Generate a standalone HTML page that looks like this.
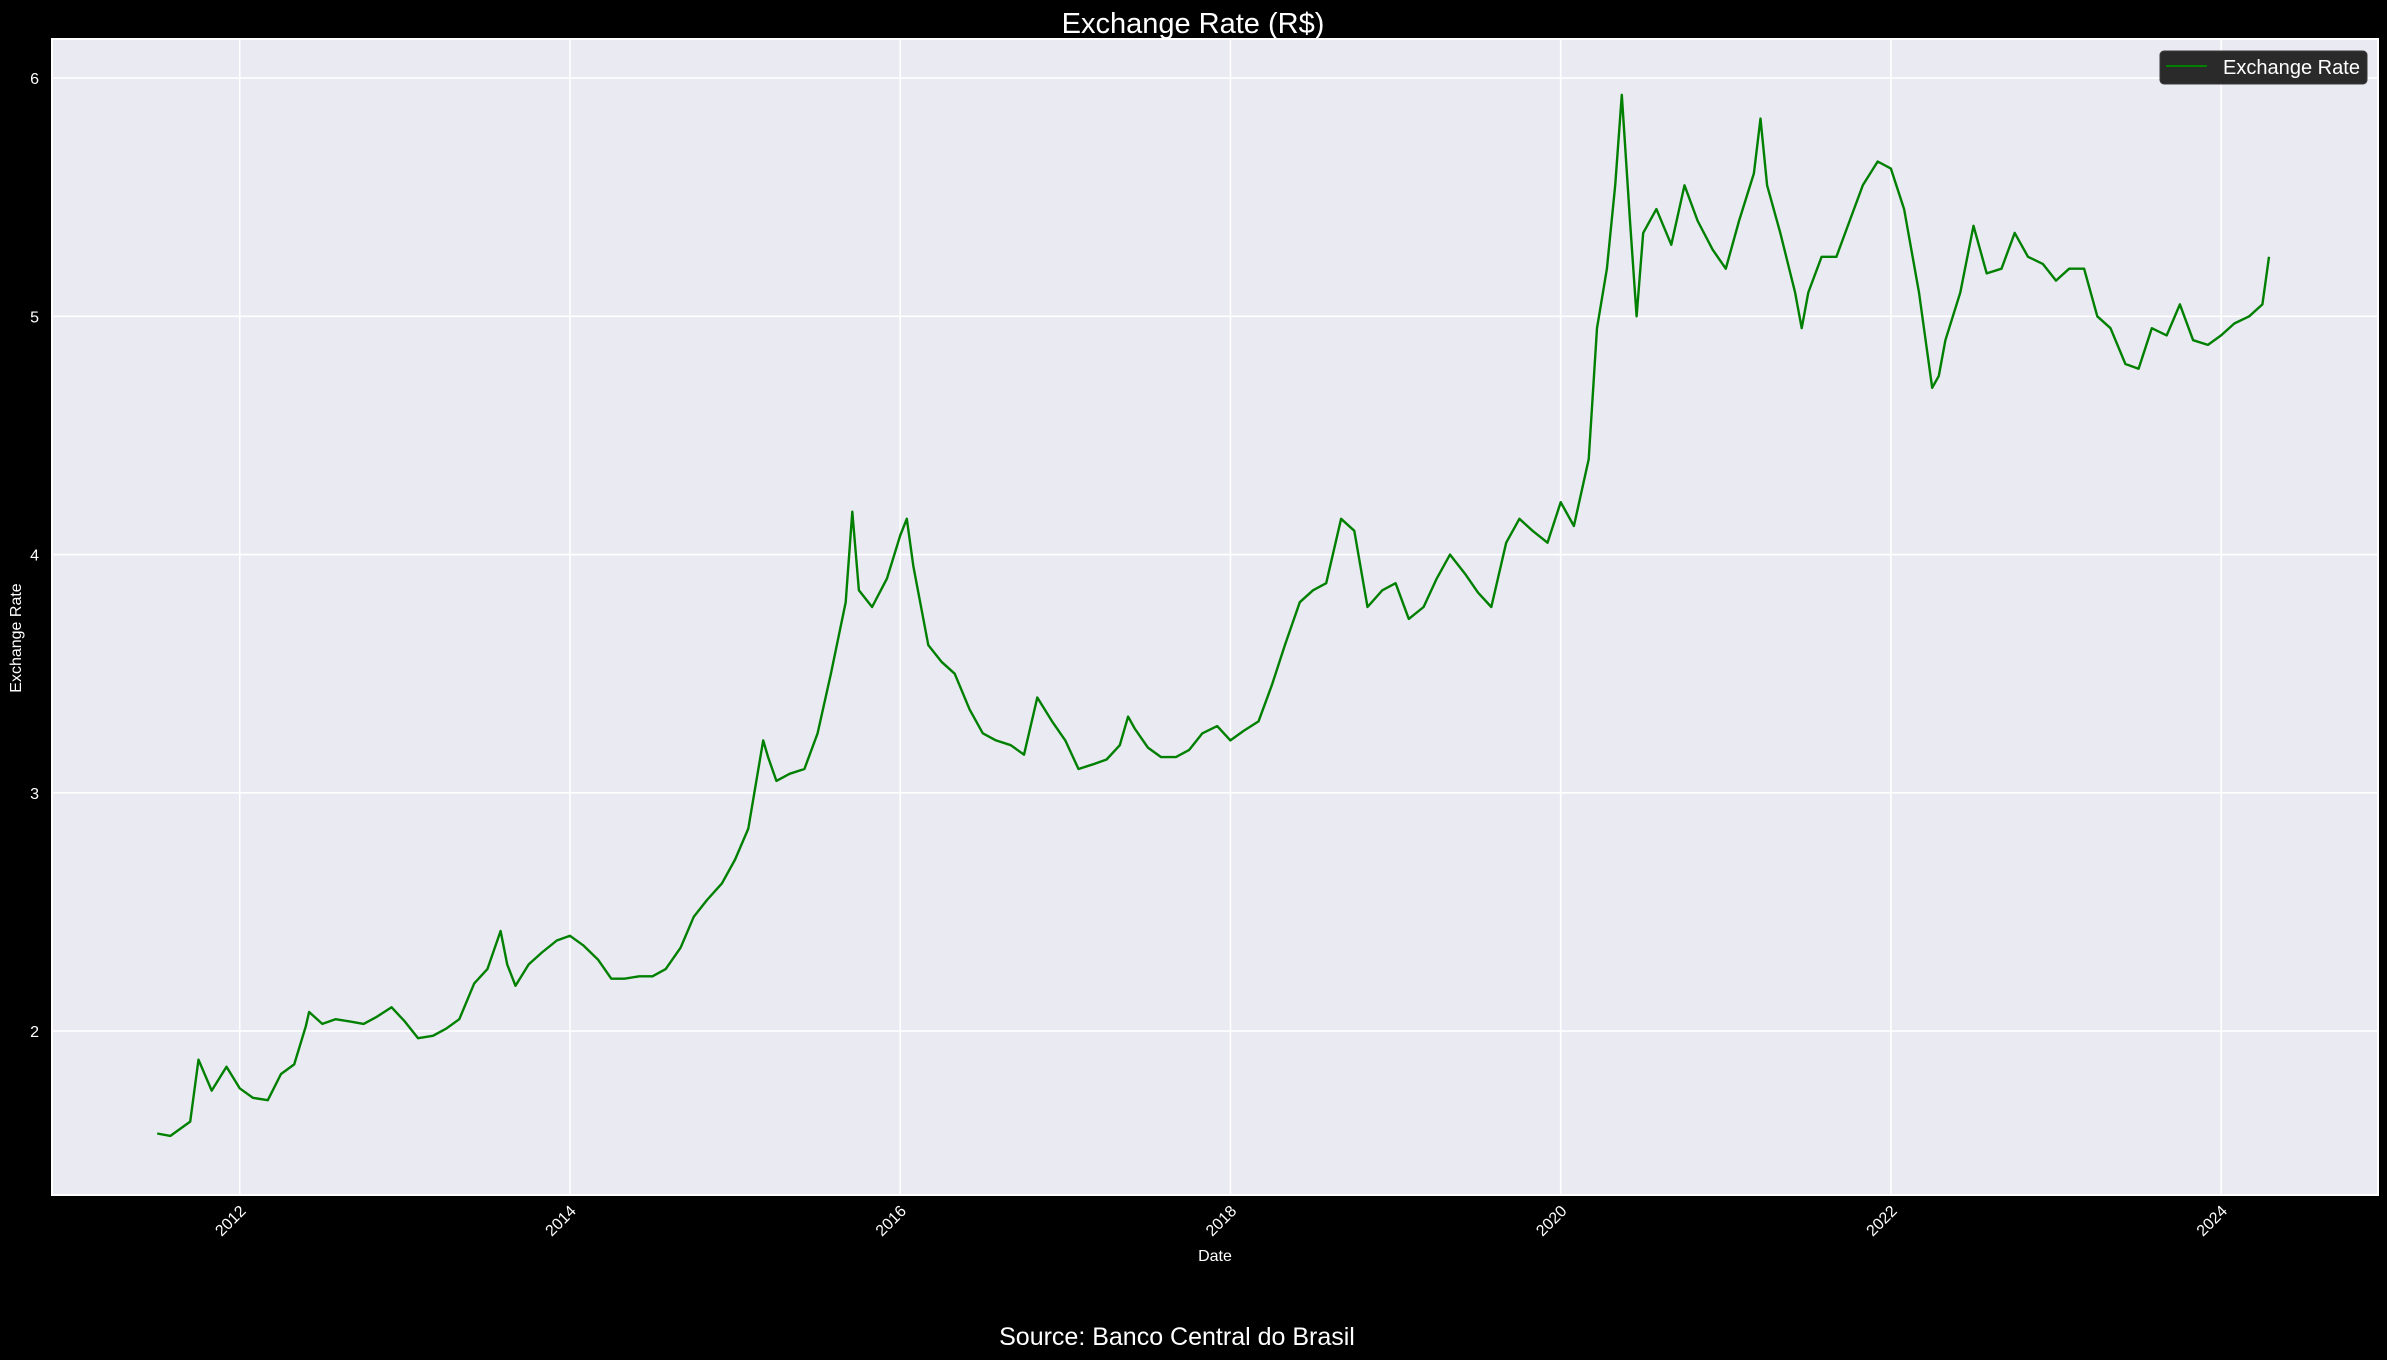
<!DOCTYPE html>
<html><head><meta charset="utf-8"><style>
html,body{margin:0;padding:0;background:#000;}
svg{display:block;font-family:"Liberation Sans",sans-serif;}
</style></head><body>
<svg id="chart" width="2387" height="1360" viewBox="0 0 2387 1360" xmlns="http://www.w3.org/2000/svg">
<rect x="0" y="0" width="2387" height="1360" fill="#000"/>
<text x="1193" y="33" fill="#fff" font-size="29" text-anchor="middle">Exchange Rate (R$)</text>
<rect x="52" y="39" width="2326" height="1156" fill="#eaeaf2" stroke="#fff" stroke-width="2"/>
<g id="grid"></g>
<g id="series"></g>
<g id="axes"></g>
<text x="1215" y="1261" fill="#fff" font-size="16" text-anchor="middle">Date</text>
<text x="21" y="638" fill="#fff" font-size="16" text-anchor="middle" transform="rotate(-90 21 638)">Exchange Rate</text>
<g>
<rect x="2160" y="51" width="207" height="33" rx="4" fill="#2a2a2a" stroke="#3a3a3a"/>
<line x1="2166" y1="66" x2="2207" y2="66" stroke="#008000" stroke-width="2"/>
<text x="2223" y="74" fill="#fff" font-size="20" textLength="137" lengthAdjust="spacingAndGlyphs">Exchange Rate</text>
</g>
<text x="1177" y="1345" fill="#fff" font-size="25" text-anchor="middle">Source: Banco Central do Brasil</text>
</svg>
<script>
const dates = [2011.50,2011.58,2011.66,2011.70,2011.75,2011.83,2011.92,2012.00,2012.08,2012.17,2012.25,2012.33,2012.40,2012.42,2012.50,2012.58,2012.67,2012.75,2012.83,2012.92,2013.00,2013.08,2013.17,2013.25,2013.33,2013.42,2013.50,2013.58,2013.62,2013.67,2013.75,2013.83,2013.92,2014.00,2014.08,2014.17,2014.25,2014.33,2014.42,2014.50,2014.58,2014.67,2014.75,2014.83,2014.92,2015.00,2015.08,2015.17,2015.20,2015.25,2015.33,2015.42,2015.50,2015.58,2015.67,2015.71,2015.75,2015.83,2015.92,2016.00,2016.04,2016.08,2016.17,2016.25,2016.33,2016.42,2016.50,2016.58,2016.67,2016.75,2016.83,2016.92,2017.00,2017.08,2017.17,2017.25,2017.33,2017.38,2017.42,2017.50,2017.58,2017.67,2017.75,2017.83,2017.92,2018.00,2018.08,2018.17,2018.25,2018.33,2018.42,2018.50,2018.58,2018.67,2018.75,2018.83,2018.92,2019.00,2019.08,2019.17,2019.25,2019.33,2019.42,2019.50,2019.58,2019.67,2019.75,2019.83,2019.92,2020.00,2020.08,2020.17,2020.22,2020.28,2020.33,2020.37,2020.42,2020.46,2020.50,2020.58,2020.67,2020.75,2020.83,2020.92,2021.00,2021.08,2021.17,2021.21,2021.25,2021.33,2021.42,2021.46,2021.50,2021.58,2021.67,2021.75,2021.83,2021.92,2022.00,2022.08,2022.17,2022.25,2022.29,2022.33,2022.42,2022.50,2022.58,2022.67,2022.75,2022.83,2022.92,2023.00,2023.08,2023.17,2023.25,2023.33,2023.42,2023.50,2023.58,2023.67,2023.75,2023.83,2023.92,2024.00,2024.08,2024.17,2024.25,2024.29];
const rates = [1.57,1.56,1.60,1.62,1.88,1.75,1.85,1.76,1.72,1.71,1.82,1.86,2.02,2.08,2.03,2.05,2.04,2.03,2.06,2.10,2.04,1.97,1.98,2.01,2.05,2.20,2.26,2.42,2.28,2.19,2.28,2.33,2.38,2.40,2.36,2.30,2.22,2.22,2.23,2.23,2.26,2.35,2.48,2.55,2.62,2.72,2.85,3.22,3.15,3.05,3.08,3.10,3.25,3.50,3.80,4.18,3.85,3.78,3.90,4.08,4.15,3.95,3.62,3.55,3.50,3.35,3.25,3.22,3.20,3.16,3.40,3.30,3.22,3.10,3.12,3.14,3.20,3.32,3.27,3.19,3.15,3.15,3.18,3.25,3.28,3.22,3.26,3.30,3.45,3.62,3.80,3.85,3.88,4.15,4.10,3.78,3.85,3.88,3.73,3.78,3.90,4.00,3.92,3.84,3.78,4.05,4.15,4.10,4.05,4.22,4.12,4.40,4.95,5.20,5.55,5.93,5.40,5.00,5.35,5.45,5.30,5.55,5.40,5.28,5.20,5.40,5.60,5.83,5.55,5.35,5.10,4.95,5.10,5.25,5.25,5.40,5.55,5.65,5.62,5.45,5.10,4.70,4.75,4.90,5.10,5.38,5.18,5.20,5.35,5.25,5.22,5.15,5.20,5.20,5.00,4.95,4.80,4.78,4.95,4.92,5.05,4.90,4.88,4.92,4.97,5.00,5.05,5.25];
const yTicks = [2,3,4,5,6];
const xTicks = [2012,2014,2016,2018,2020,2022,2024];
const xTickLabels = ["2012","2014","2016","2018","2020","2022","2024"];

const X0=52,X1=2378,Y0=39,Y1=1195;
const xMin=2010.863,xMax=2024.95,yMin=1.312,yMax=6.164;
function xs(v){return X0+(v-xMin)/(xMax-xMin)*(X1-X0);}
function ys(v){return Y1-(v-yMin)/(yMax-yMin)*(Y1-Y0);}
const NS="http://www.w3.org/2000/svg";
const grid=document.getElementById('grid'),axes=document.getElementById('axes'),series=document.getElementById('series');
yTicks.forEach(t=>{
  const l=document.createElementNS(NS,'line');
  
  
  l.setAttribute('x1',X0);l.setAttribute('x2',X1);l.setAttribute('y1',ys(t));l.setAttribute('y2',ys(t));
  l.setAttribute('stroke','#fff');l.setAttribute('stroke-width','1.6');
  grid.appendChild(l);
  const tx=document.createElementNS(NS,'text');
  
  
  tx.setAttribute('x',39);tx.setAttribute('y',ys(t)+6);
  tx.setAttribute('fill','#fff');tx.setAttribute('font-size','16');tx.setAttribute('text-anchor','end');
  tx.textContent=String(t);
  axes.appendChild(tx);
});
xTicks.forEach((t,i)=>{
  const x=xs(t);
  const l=document.createElementNS(NS,'line');
  
  
  l.setAttribute('x1',x);l.setAttribute('x2',x);l.setAttribute('y1',Y0);l.setAttribute('y2',Y1);
  l.setAttribute('stroke','#fff');l.setAttribute('stroke-width','1.6');
  grid.appendChild(l);
  const tx=document.createElementNS(NS,'text');
  
  
  const ax=x+7,ay=1212;
  tx.setAttribute('x',ax);tx.setAttribute('y',ay);
  tx.setAttribute('fill','#fff');tx.setAttribute('font-size','16');tx.setAttribute('text-anchor','end');
  tx.setAttribute('transform','rotate(-45 '+ax+' '+ay+')');
  tx.textContent=xTickLabels[i];
  axes.appendChild(tx);
});
const p=document.createElementNS(NS,'path');


p.setAttribute('d',dates.map((d,i)=>(i?'L':'M')+xs(d).toFixed(1)+' '+ys(rates[i]).toFixed(1)).join(' '));
p.setAttribute('fill','none');p.setAttribute('stroke','#008000');p.setAttribute('stroke-width','2.4');p.setAttribute('stroke-linejoin','round');
series.appendChild(p);
</script>
</body></html>
